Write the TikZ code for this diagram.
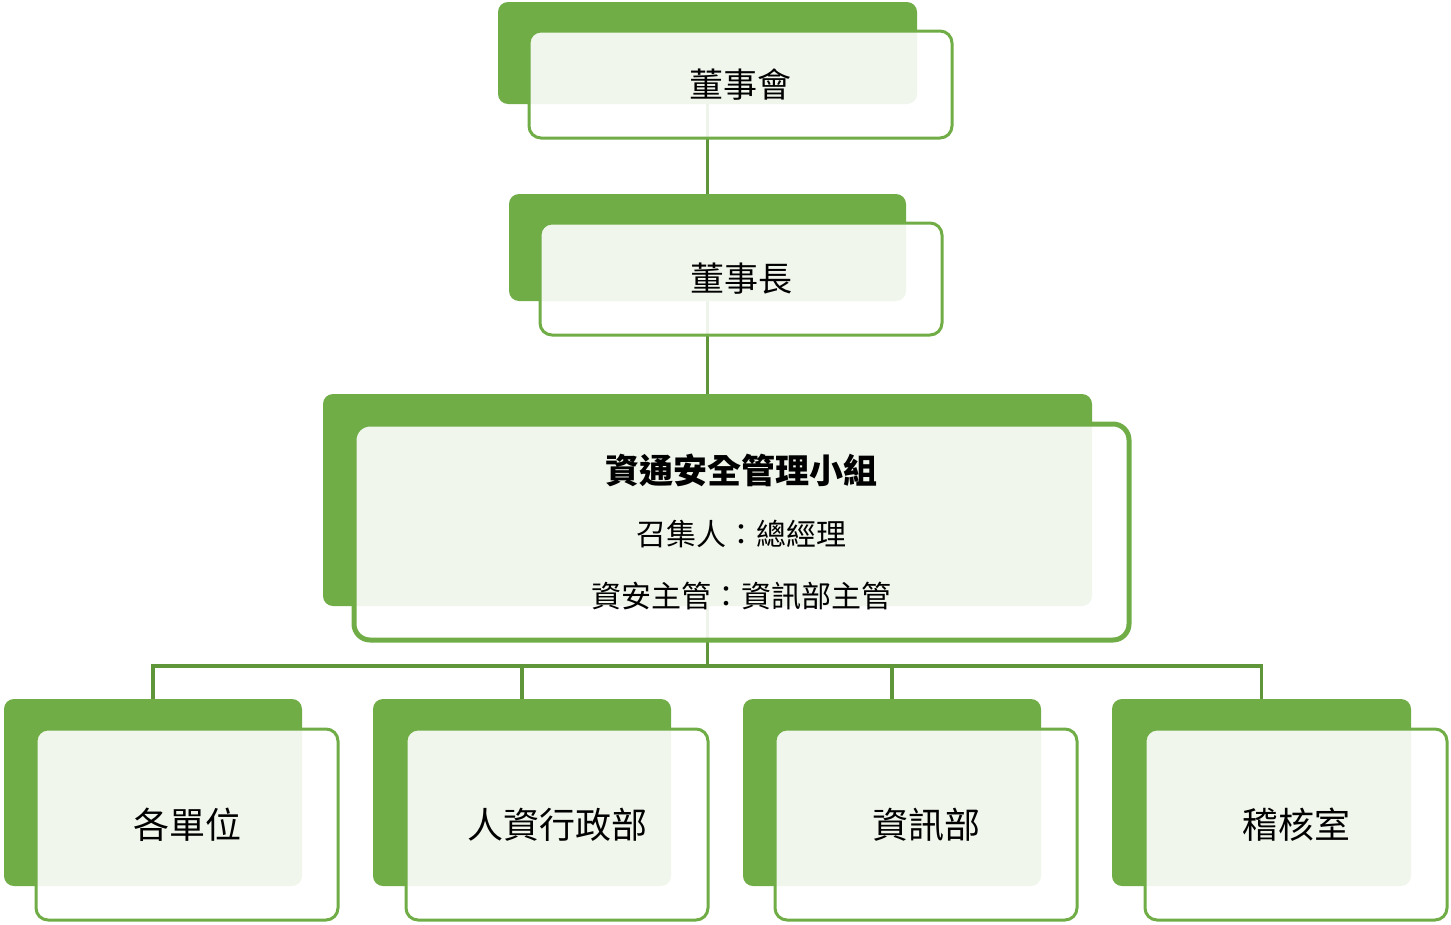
\documentclass[tikz,border=0pt]{standalone}
\usepackage{fontspec}
\setmainfont{Noto Sans CJK TC}
\usetikzlibrary{backgrounds}
\definecolor{grn}{HTML}{70AD47}
\definecolor{lnk}{HTML}{5F9639}
\tikzset{
 back/.style={fill=grn,draw=none,rounded corners=10pt,inner sep=0pt},
 front/.style={fill=white,fill opacity=0.9,text opacity=1,draw=grn,draw opacity=1,line width=3pt,rounded corners=12pt,inner sep=0pt,align=center},
 conn/.style={draw=lnk,line width=3.5pt}
}
\begin{document}
\begin{tikzpicture}[x=1pt,y=-1pt]
\useasboundingbox (0,0) rectangle (1451,924);
\newcommand{\bx}[5]{%
 \node[back,minimum width=#4-#2,minimum height=#5-#3] (#1) at ({(#2+#4)/2},{(#3+#5)/2}) {};
}
\bx{b1}{498}{2}{917}{104}
\node[front,minimum width=423,minimum height=107,font=\fontsize{34}{36}\selectfont] (f1) at (740.5,84.5) {董事會};
\bx{b2}{509}{194}{906}{301}
\node[front,minimum width=402,minimum height=112,font=\fontsize{34}{36}\selectfont] (f2) at (741,279) {董事長};
\bx{b3}{323}{394}{1092}{606}
\node[front,line width=5pt,rounded corners=16pt,minimum width=775,minimum height=216,font=\fontsize{30}{62}\selectfont] (f3) at (741.5,532) {{\bfseries\fontsize{34}{36}\selectfont 資通安全管理小組}\\召集人：總經理\\資安主管：資訊部主管};
\bx{c1}{4}{699}{302}{886}
\node[front,minimum width=302,minimum height=191,font=\fontsize{36}{38}\selectfont] (g1) at (187,824.5) {各單位};
\bx{c2}{373}{699}{671}{886}
\node[front,minimum width=302,minimum height=191,font=\fontsize{36}{38}\selectfont] (g2) at (557,824.5) {人資行政部};
\bx{c3}{743}{699}{1041}{886}
\node[front,minimum width=302,minimum height=191,font=\fontsize{36}{38}\selectfont] (g3) at (926,824.5) {資訊部};
\bx{c4}{1112}{699}{1411}{886}
\node[front,minimum width=302,minimum height=191,font=\fontsize{36}{38}\selectfont] (g4) at (1296,824.5) {稽核室};
\begin{scope}[on background layer]
\draw[conn] (b1.south) -- (b2.north);
\draw[conn] (b2.south) -- (b3.north);
\coordinate (h) at (707.5,666);
\draw[conn] (b3.south) -- (h);
\foreach \c in {c1,c2,c3,c4} \draw[conn] (h) -| (\c.north);
\end{scope}
\end{tikzpicture}
\end{document}
